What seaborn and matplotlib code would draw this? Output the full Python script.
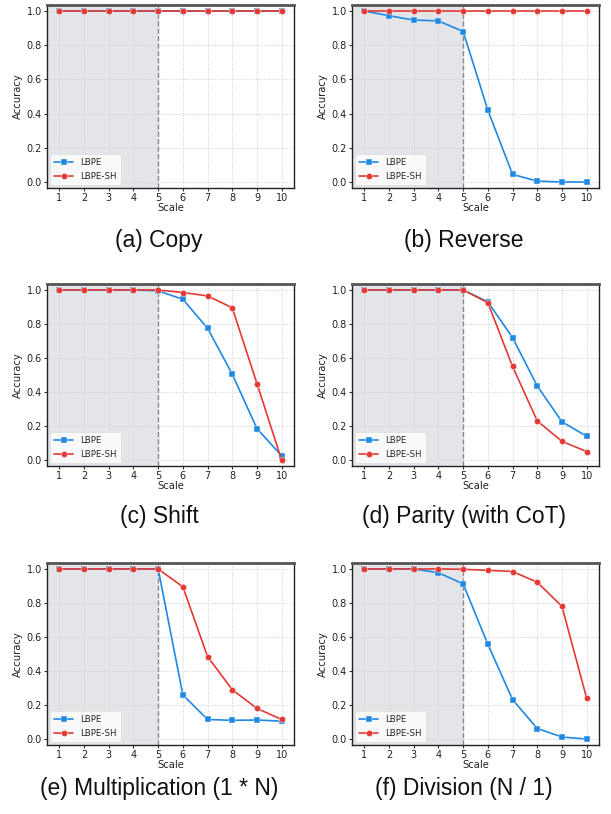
import numpy as np
import pandas as pd
import matplotlib
matplotlib.use("Agg")
import matplotlib.pyplot as plt
import seaborn as sns

scale = [1, 2, 3, 4, 5, 6, 7, 8, 9, 10]
methods = ["LBPE", "LBPE-SH"]

copy_lbpe = [1.0, 1.0, 1.0, 1.0, 1.0, 1.0, 1.0, 1.0, 1.0, 1.0]
copy_sh = [1.0, 1.0, 1.0, 1.0, 1.0, 1.0, 1.0, 1.0, 1.0, 1.0]
reverse_lbpe = [1.0, 0.972, 0.947, 0.942, 0.88, 0.42, 0.045, 0.005, 0.0, 0.0]
reverse_sh = [1.0, 1.0, 1.0, 1.0, 1.0, 1.0, 1.0, 1.0, 1.0, 1.0]
shift_lbpe = [1.0, 1.0, 1.0, 1.0, 0.995, 0.945, 0.775, 0.505, 0.185, 0.025]
shift_sh = [1.0, 1.0, 1.0, 1.0, 1.0, 0.985, 0.965, 0.895, 0.45, 0.0]
parity_lbpe = [1.0, 1.0, 1.0, 1.0, 1.0, 0.93, 0.72, 0.435, 0.225, 0.14]
parity_sh = [1.0, 1.0, 1.0, 1.0, 1.0, 0.925, 0.55, 0.23, 0.11, 0.05]
mult_lbpe = [1.0, 1.0, 1.0, 1.0, 1.0, 0.26, 0.115, 0.11, 0.112, 0.105]
mult_sh = [1.0, 1.0, 1.0, 1.0, 1.0, 0.895, 0.485, 0.29, 0.18, 0.115]
div_lbpe = [1.0, 1.0, 1.0, 0.978, 0.912, 0.557, 0.232, 0.062, 0.012, 0.0]
div_sh = [1.0, 1.0, 1.0, 1.0, 0.998, 0.992, 0.985, 0.922, 0.78, 0.24]

captions = ["(a) Copy", "(b) Reverse", "(c) Shift", "(d) Parity (with CoT)",
            "(e) Multiplication (1 * N)", "(f) Division (N / 1)"]
series = [(copy_lbpe, copy_sh), (reverse_lbpe, reverse_sh), (shift_lbpe, shift_sh),
          (parity_lbpe, parity_sh), (mult_lbpe, mult_sh), (div_lbpe, div_sh)]
y_ticks = [0.0, 0.2, 0.4, 0.6, 0.8, 1.0]

sns.set_theme(style="white")
plt.rcParams["font.family"] = ["DejaVu Sans"]

W, H = 611, 814
fig = plt.figure(figsize=(W / 100, H / 100), dpi=100)

# pixel boxes: left, right, top, bottom
boxes = [(47, 294, 5, 188), (352, 599, 5, 188),
         (47, 294, 284, 466), (352, 599, 284, 466),
         (47, 294, 563, 745), (352, 599, 563, 745)]
cap_pos = [(159, 240), (464, 240), (159, 516), (464, 516), (159, 789), (464, 789)]

palette = {"LBPE": "#1E88E5", "LBPE-SH": "#E53935"}
markers = {"LBPE": "s", "LBPE-SH": "o"}

for i, ((l, r, t, b), (lb, sh)) in enumerate(zip(boxes, series)):
    ax = fig.add_axes([l / W, 1 - b / H, (r - l) / W, (b - t) / H])
    df = pd.DataFrame({
        "Scale": scale * 2,
        "Accuracy": list(lb) + list(sh),
        "Method": ["LBPE"] * len(scale) + ["LBPE-SH"] * len(scale),
    })
    ax.axvspan(0.5, 5, color="#E4E5E8", zorder=0, lw=0)
    ax.axvline(5, color="#888888", ls="--", lw=1.0, zorder=1)
    sns.lineplot(data=df, x="Scale", y="Accuracy", hue="Method", style="Method",
                 markers=markers, dashes=False, palette=palette, ax=ax,
                 lw=1.2, markersize=4.5, markeredgewidth=0.3, zorder=3)
    ax.set_xlim(0.5, 10.5)
    ax.set_ylim(-0.035, 1.035)
    ax.set_xticks(scale)
    ax.set_yticks(y_ticks)
    ax.set_yticklabels([f"{v:.1f}" for v in y_ticks])
    ax.grid(True, color="#cccccc", ls=":", lw=0.7)
    ax.set_axisbelow(True)
    ax.tick_params(axis="both", labelsize=7, length=2.5, width=0.8, color="#333333",
                   pad=1.2, bottom=True, left=True, labelcolor="#222222")
    ax.set_xlabel("Scale", fontsize=7.2, labelpad=0, color="#222222")
    ax.set_ylabel("Accuracy", fontsize=7.2, labelpad=2.5, color="#222222")
    for s in ["left", "right", "bottom"]:
        ax.spines[s].set_color("#222222")
        ax.spines[s].set_linewidth(1.0)
    ax.spines["top"].set_color("#555555")
    ax.spines["top"].set_linewidth(2.0)
    leg = ax.legend(loc="lower left", fontsize=6.2, frameon=True, framealpha=0.8,
                    edgecolor="#dddddd", fancybox=True, borderpad=0.45,
                    handlelength=2.2, labelspacing=0.55, borderaxespad=0.4)
    leg.get_frame().set_linewidth(0.6)
    cx, cy = cap_pos[i]
    fig.text(cx / W, 1 - cy / H, captions[i], ha="center", va="center",
             fontsize=16.5, family="Liberation Sans", color="#111111")

fig.savefig("out.png", dpi=100, facecolor="white")
